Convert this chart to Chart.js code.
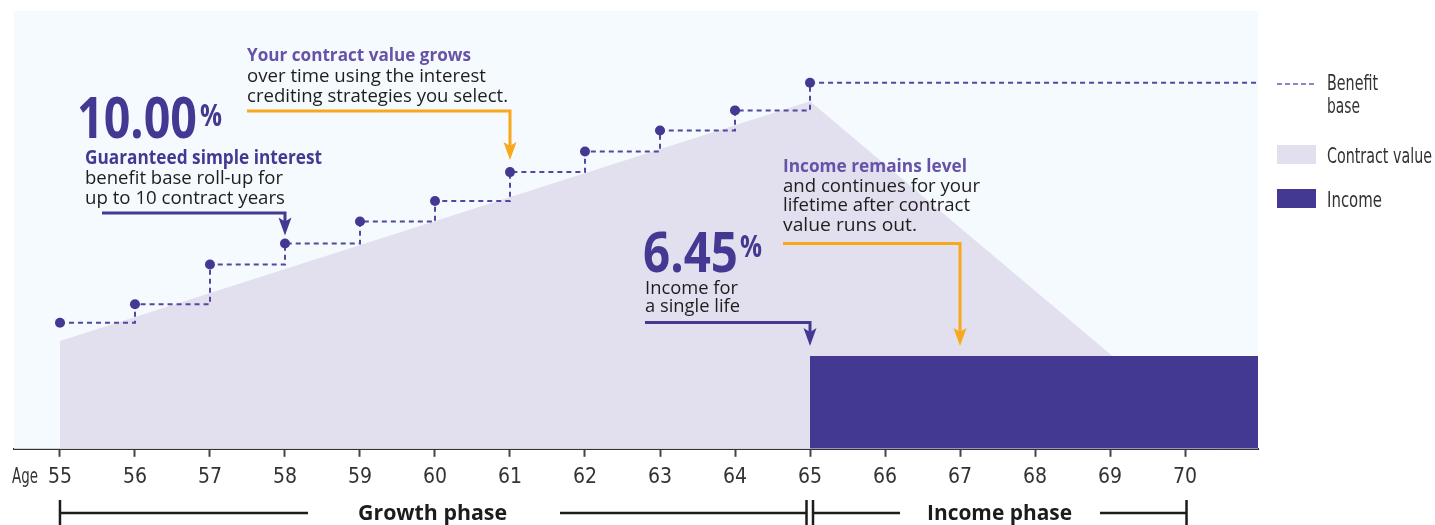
<!DOCTYPE html>
<html>
<head>
<meta charset="utf-8">
<script src="https://cdn.jsdelivr.net/npm/chart.js@4.4.1/dist/chart.umd.min.js"></script>
<style>
  html, body { margin: 0; padding: 0; background: #ffffff; }
  #wrap { width: 1435px; height: 525px; }
</style>
</head>
<body>
<div id="wrap"><canvas id="chart" width="1435" height="525"></canvas></div>
<script>
// ==================== DATA ====================
const benefitAges = [55, 56, 57, 58, 59, 60, 61, 62, 63, 64, 65, 70.973];
const benefitBase = [28.8, 33.0, 42.1, 46.9, 51.9, 56.6, 63.2, 67.9, 72.7, 77.3, 83.6, 83.6];
const benefitDots = [5, 5, 5, 5, 5, 5, 5, 5, 5, 5, 5, 0];

const contractAges = [55, 65, 70.5];
const contractValue = [24.6, 79.4, 0];

const incomeAges = [65, 70.973];
const incomeLevel = [21.2, 21.2];

const tickAges = [55, 56, 57, 58, 59, 60, 61, 62, 63, 64, 65, 66, 67, 68, 69, 70];
const axisMin = 54.387;
const axisMax = 70.973;

// ==================== COLOURS / FONTS ====================
const PURPLE = "#433993";
const PURPLE_LIGHT = "#6653a8";
const ORANGE = "#f7a81b";
const TEXT = "#1f1d1e";
const SANS = "'Open Sans', 'Noto Sans', sans-serif";
const NARROW = "'Liberation Sans Narrow', 'DejaVu Sans Condensed', sans-serif";

const toPoints = (xs, ys) => xs.map((x, i) => ({ x: x, y: ys[i] }));

// texte étiré/compressé pour tenir dans une largeur donnée
function fitText(ctx, str, x, y, font, color, width) {
    ctx.save();
    ctx.font = font;
    ctx.fillStyle = color;
    ctx.textAlign = "left";
    ctx.textBaseline = "alphabetic";
    const w = ctx.measureText(str).width;
    ctx.translate(x, y);
    if (width && w > 0) ctx.scale(width / w, 1);
    ctx.fillText(str, 0, 0);
    ctx.restore();
}

function elbowArrow(ctx, x0, y0, x1, tipY, color) {
    ctx.save();
    ctx.strokeStyle = color;
    ctx.fillStyle = color;
    ctx.lineWidth = 3;
    ctx.lineJoin = "miter";
    ctx.beginPath();
    ctx.moveTo(x0, y0);
    ctx.lineTo(x1, y0);
    ctx.lineTo(x1, tipY - 12);
    ctx.stroke();
    ctx.beginPath();
    ctx.moveTo(x1 - 6.5, tipY - 18);
    ctx.lineTo(x1, tipY - 14);
    ctx.lineTo(x1 + 6.5, tipY - 18);
    ctx.lineTo(x1, tipY);
    ctx.closePath();
    ctx.fill();
    ctx.restore();
}

// ==================== PLUGIN : FOND, ANNOTATIONS, LÉGENDE ====================
const decorPlugin = {
    id: "decor",
    beforeDatasetsDraw(chart) {
        const { ctx, chartArea } = chart;
        ctx.save();
        ctx.fillStyle = "#f4fafd";
        ctx.fillRect(chartArea.left, chartArea.top, chartArea.right - chartArea.left, chartArea.bottom - chartArea.top);
        ctx.restore();
    },
    afterDraw(chart) {
        const ctx = chart.ctx;
        const xs = chart.scales.x;
        const ys = chart.scales.y;
        const px = v => xs.getPixelForValue(v);
        const py = v => ys.getPixelForValue(v);

        // --- 10.00% ---
        fitText(ctx, "10.00", 77, 138, "700 57px " + SANS, PURPLE, 120);
        fitText(ctx, "%", 200, 126, "700 31px " + SANS, PURPLE, 22);
        fitText(ctx, "Guaranteed simple interest", 85, 164, "700 19px " + SANS, PURPLE, 237);
        fitText(ctx, "benefit base roll-up for", 85, 184, "400 19px " + SANS, TEXT, 198);
        fitText(ctx, "up to 10 contract years", 85, 203.5, "400 19px " + SANS, TEXT, 200);
        elbowArrow(ctx, 102, 213, px(58), py(benefitBase[3]) - 8, PURPLE);

        // --- contract value grows ---
        fitText(ctx, "Your contract value grows", 247, 60.5, "700 18px " + SANS, PURPLE_LIGHT, 224);
        fitText(ctx, "over time using the interest", 247, 81.5, "400 18px " + SANS, TEXT, 239);
        fitText(ctx, "crediting strategies you select.", 247, 101.5, "400 18px " + SANS, TEXT, 261);
        elbowArrow(ctx, 247, 111, px(61), py(benefitBase[6]) - 12, ORANGE);

        // --- 6.45% ---
        fitText(ctx, "6.45", 643, 271.5, "700 56px " + SANS, PURPLE, 95);
        fitText(ctx, "%", 740, 257, "700 31px " + SANS, PURPLE, 22);
        fitText(ctx, "Income for", 645, 294, "400 18px " + SANS, TEXT, 93);
        fitText(ctx, "a single life", 645, 312, "400 18px " + SANS, TEXT, 95);
        elbowArrow(ctx, 645, 322.5, px(65), py(incomeLevel[0]) - 10, PURPLE);

        // --- income remains level ---
        fitText(ctx, "Income remains level", 783, 171.5, "700 18px " + SANS, PURPLE_LIGHT, 184);
        fitText(ctx, "and continues for your", 783, 191.5, "400 18px " + SANS, TEXT, 197);
        fitText(ctx, "lifetime after contract", 783, 211, "400 18px " + SANS, TEXT, 187);
        fitText(ctx, "value runs out.", 783, 230.5, "400 18px " + SANS, TEXT, 134);
        elbowArrow(ctx, 783, 243.5, px(67), py(incomeLevel[0]) - 10, ORANGE);

        // --- Age ---
        fitText(ctx, "Age", 12, 483, "400 22px " + NARROW, "#333333", 26);

        // --- phases ---
        const by = 513;
        ctx.save();
        ctx.strokeStyle = "#1c1c1c";
        ctx.lineWidth = 2.5;
        ctx.beginPath();
        const g0 = px(55), g1 = px(65) - 3.5, i0 = px(65) + 3, i1 = px(70) + 1.5;
        ctx.moveTo(g0, by); ctx.lineTo(308, by);
        ctx.moveTo(560, by); ctx.lineTo(g1, by);
        ctx.moveTo(i0, by); ctx.lineTo(900, by);
        ctx.moveTo(1100, by); ctx.lineTo(i1, by);
        [g0, g1, i0, i1].forEach(x => { ctx.moveTo(x, 500); ctx.lineTo(x, 525); });
        ctx.stroke();
        ctx.restore();
        fitText(ctx, "Growth phase", 358, 520, "700 21px " + SANS, "#1c1c1c", 149);
        fitText(ctx, "Income phase", 927, 520, "700 21px " + SANS, "#1c1c1c", 145);

        // --- légende ---
        ctx.save();
        ctx.strokeStyle = "#6a5fb0";
        ctx.lineWidth = 1.5;
        ctx.setLineDash([5, 3]);
        ctx.beginPath();
        ctx.moveTo(1277, 84); ctx.lineTo(1316, 84);
        ctx.stroke();
        ctx.setLineDash([]);
        ctx.fillStyle = "#e2e0ef";
        ctx.fillRect(1277, 145, 39, 19);
        ctx.fillStyle = PURPLE;
        ctx.fillRect(1277, 189, 39, 19);
        ctx.restore();
        fitText(ctx, "Benefit", 1327, 90, "400 22px " + NARROW, "#333333", 51);
        fitText(ctx, "base", 1327, 113, "400 22px " + NARROW, "#333333", 33);
        fitText(ctx, "Contract value", 1327, 163, "400 22px " + NARROW, "#333333", 105);
        fitText(ctx, "Income", 1327, 207, "400 22px " + NARROW, "#333333", 55);
    }
};

// ==================== CHART ====================
const ctx = document.getElementById("chart").getContext("2d");
new Chart(ctx, {
    type: "line",
    data: {
        datasets: [
            {
                label: "Benefit base",
                data: toPoints(benefitAges, benefitBase),
                stepped: true,
                borderColor: "#5447a0",
                borderWidth: 2,
                borderDash: [5, 4],
                pointRadius: benefitDots,
                pointBackgroundColor: PURPLE,
                pointBorderWidth: 0,
                fill: false
            },
            {
                label: "Income",
                data: toPoints(incomeAges, incomeLevel),
                borderWidth: 0,
                pointRadius: 0,
                backgroundColor: PURPLE,
                fill: "origin"
            },
            {
                label: "Contract value",
                data: toPoints(contractAges, contractValue),
                borderWidth: 0,
                pointRadius: 0,
                backgroundColor: "#e2e0ef",
                fill: "origin"
            }
        ]
    },
    options: {
        responsive: false,
        animation: false,
        devicePixelRatio: 1,
        layout: { padding: { left: 14, right: 177, top: 11, bottom: 27 } },
        plugins: {
            legend: { display: false },
            tooltip: { enabled: false }
        },
        scales: {
            x: {
                type: "linear",
                min: axisMin,
                max: axisMax,
                afterBuildTicks: (scale) => {
                    scale.ticks = tickAges.map(v => ({ value: v }));
                },
                ticks: {
                    color: "#333333",
                    font: { family: NARROW, size: 21 },
                    padding: 8,
                    maxRotation: 0,
                    autoSkip: false,
                    callback: (value) => String(value)
                },
                grid: {
                    drawOnChartArea: false,
                    drawTicks: true,
                    tickLength: 8,
                    tickColor: "#444444",
                    tickWidth: 2
                },
                border: { display: true, color: "#333333", width: 2 }
            },
            y: {
                display: false,
                min: 0,
                max: 100
            }
        }
    },
    plugins: [decorPlugin]
});
</script>
</body>
</html>
